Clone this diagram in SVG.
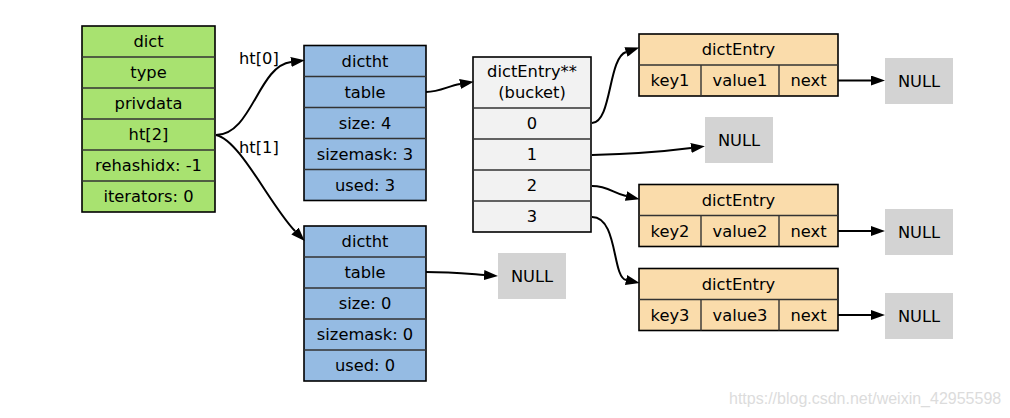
<svg xmlns="http://www.w3.org/2000/svg" width="1010" height="418" viewBox="0 0 1010 418">
<style>
text{font-family:"DejaVu Sans","Liberation Sans",sans-serif;font-size:16.3px;fill:#000;text-anchor:middle}
.lbl{text-anchor:start}
.outer{stroke:#000;stroke-width:1.6}
.inner{stroke:#333;stroke-width:1.4;fill:none}
.green{fill:#a8e270}
.blue{fill:#95bbe3}
.gray{fill:#f2f2f2}
.orange{fill:#fadcab}
.null{fill:#d3d3d3}
.edge{fill:none;stroke:#000;stroke-width:2}
.wm{font-family:"Liberation Sans",Arial,sans-serif;font-size:16px;fill:#dcdcdc;text-anchor:start}
</style>
<defs>
<marker id="arr" markerUnits="userSpaceOnUse" markerWidth="15" markerHeight="10" refX="0" refY="5" orient="auto">
<path d="M0,0 L14,5 L0,10 z" fill="#000"/>
</marker>
</defs>
<rect width="1010" height="418" fill="#fff"/>

<g id="dict">
<rect class="green outer" x="82" y="26" width="133" height="186"/>
<path class="inner" d="M82,57H215M82,88H215M82,119H215M82,150H215M82,181H215"/>
<text x="148.5" y="47">dict</text>
<text x="148.5" y="78">type</text>
<text x="148.5" y="109">privdata</text>
<text x="148.5" y="140">ht[2]</text>
<text x="148.5" y="171">rehashidx: -1</text>
<text x="148.5" y="202">iterators: 0</text>
</g>

<g id="dictht0">
<rect class="blue outer" x="304" y="45.5" width="122" height="155"/>
<path class="inner" d="M304,76.5H426M304,107.5H426M304,138.5H426M304,169.5H426"/>
<text x="365" y="66.5">dictht</text>
<text x="365" y="97.5">table</text>
<text x="365" y="128.5">size: 4</text>
<text x="365" y="159.5">sizemask: 3</text>
<text x="365" y="190.5">used: 3</text>
</g>

<g id="dictht1">
<rect class="blue outer" x="304" y="226" width="122" height="155"/>
<path class="inner" d="M304,257H426M304,288H426M304,319H426M304,350H426"/>
<text x="365" y="247">dictht</text>
<text x="365" y="278">table</text>
<text x="365" y="309">size: 0</text>
<text x="365" y="340">sizemask: 0</text>
<text x="365" y="371">used: 0</text>
</g>

<g id="null_ht1">
<rect class="null" x="498" y="253" width="68" height="46"/>
<text x="532" y="281.5">NULL</text>
</g>

<g id="bucket">
<rect class="gray outer" x="473" y="57" width="118" height="175"/>
<path class="inner" d="M473,108H591M473,139H591M473,170H591M473,201H591"/>
<text x="532" y="77">dictEntry**</text>
<text x="532" y="98">(bucket)</text>
<text x="532" y="129">0</text>
<text x="532" y="160">1</text>
<text x="532" y="191">2</text>
<text x="532" y="222">3</text>
</g>

<g id="entry1">
<rect class="orange outer" x="639" y="34" width="199" height="62"/>
<path class="inner" d="M639,65H838M701,65V96M779,65V96"/>
<text x="738.5" y="55">dictEntry</text>
<text x="670" y="86">key1</text>
<text x="740" y="86">value1</text>
<text x="808.5" y="86">next</text>
</g>

<g id="null1">
<rect class="null" x="885" y="58" width="68" height="46"/>
<text x="919" y="86.5">NULL</text>
</g>

<g id="null_b1">
<rect class="null" x="705" y="117" width="68" height="46"/>
<text x="739" y="145.5">NULL</text>
</g>

<g id="entry2">
<rect class="orange outer" x="639" y="184.5" width="199" height="62"/>
<path class="inner" d="M639,215.5H838M701,215.5V246.5M779,215.5V246.5"/>
<text x="738.5" y="205.5">dictEntry</text>
<text x="670" y="236.5">key2</text>
<text x="740" y="236.5">value2</text>
<text x="808.5" y="236.5">next</text>
</g>

<g id="null2">
<rect class="null" x="885" y="209" width="68" height="46"/>
<text x="919" y="237.5">NULL</text>
</g>

<g id="entry3">
<rect class="orange outer" x="639" y="268.5" width="199" height="62"/>
<path class="inner" d="M639,299.5H838M701,299.5V330.5M779,299.5V330.5"/>
<text x="738.5" y="289.5">dictEntry</text>
<text x="670" y="320.5">key3</text>
<text x="740" y="320.5">value3</text>
<text x="808.5" y="320.5">next</text>
</g>

<g id="null3">
<rect class="null" x="885" y="293" width="68" height="46"/>
<text x="919" y="321.5">NULL</text>
</g>

<g id="connectors">
<path class="edge" marker-end="url(#arr)" d="M216,135 C252,135 258,66 291,62"/>
<path class="edge" marker-end="url(#arr)" d="M216,135 C240,140 270,205 295,231"/>
<path class="edge" marker-end="url(#arr)" d="M426,92 C440,92 448,86 460,84"/>
<path class="edge" marker-end="url(#arr)" d="M426,272 C450,272 470,274 484,275"/>
<path class="edge" marker-end="url(#arr)" d="M592,123 C612,122 608,58 626,52"/>
<path class="edge" marker-end="url(#arr)" d="M592,155 C630,154 660,152 691,148"/>
<path class="edge" marker-end="url(#arr)" d="M592,186 C608,186 613,193 626,196"/>
<path class="edge" marker-end="url(#arr)" d="M592,217 C618,217 612,277 626,280"/>
<path class="edge" marker-end="url(#arr)" d="M838,80.5 L871,80.5"/>
<path class="edge" marker-end="url(#arr)" d="M838,231 L871,231"/>
<path class="edge" marker-end="url(#arr)" d="M838,315 L871,315"/>
<text class="lbl" x="239" y="64">ht[0]</text>
<text class="lbl" x="239" y="153">ht[1]</text>
</g>

<text class="wm" x="729" y="404">https://blog.csdn.net/weixin_42955598</text>
</svg>
